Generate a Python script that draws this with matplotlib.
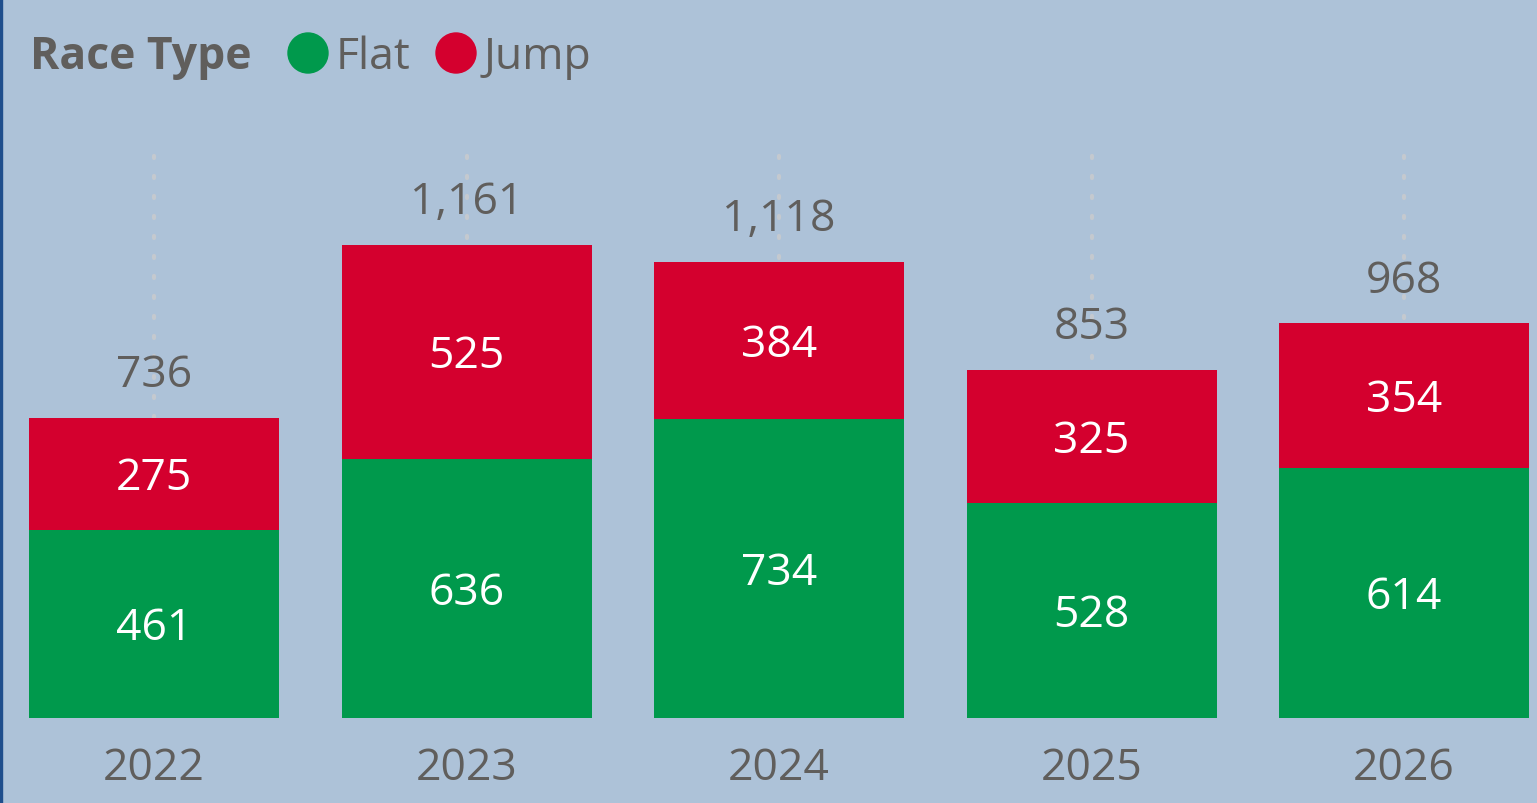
import numpy as np
import matplotlib
matplotlib.use("Agg")
import matplotlib.pyplot as plt
from matplotlib.patches import Ellipse, Rectangle

years = ['2022', '2023', '2024', '2025', '2026']
flat = [461, 636, 734, 528, 614]
jump = [275, 525, 384, 325, 354]
series_names = ['Flat', 'Jump']
series_colors = ['#00994C', '#D4002E']

bg = '#ADC2D8'
txt = '#605E5C'

plt.rcParams['font.family'] = ['Open Sans', 'DejaVu Sans']

W, H = 1537, 804
fig = plt.figure(figsize=(W / 100, H / 100), dpi=100)
fig.patch.set_facecolor(bg)

# plot area in pixels: baseline at y=719, top at y=100
ax = fig.add_axes([0, (H - 719) / H, 1, (719 - 100) / H])
ax.set_facecolor(bg)
for s in ax.spines.values():
    s.set_visible(False)

x = np.arange(len(years))
totals = np.array(flat) + np.array(jump)

ax.set_xlim(-0.4928, 4.4256)
ax.set_ylim(0, 1518.6)

# dotted gridlines at each category
for xi in x:
    ax.axvline(xi, ymin=0, ymax=(719 - 140) / (719 - 100), color='#C4C9CF',
               ls=(0, (0.5, 4.3)), lw=3, dash_capstyle='round', zorder=0)

fs = 32
ax.bar(x, flat, width=0.8, color=series_colors[0], zorder=2)
ax.bar(x, jump, width=0.8, bottom=flat, color=series_colors[1], zorder=2)

for i in range(len(years)):
    ax.annotate(str(flat[i]), (x[i], flat[i] / 2), xytext=(0, -3),
                textcoords='offset points', ha='center', va='center',
                color='white', fontsize=fs, zorder=3)
    ax.annotate(str(jump[i]), (x[i], flat[i] + jump[i] / 2), xytext=(0, -3),
                textcoords='offset points', ha='center', va='center',
                color='white', fontsize=fs, zorder=3)
    ax.annotate('{:,}'.format(totals[i]), (x[i], totals[i]), xytext=(0, 15),
                textcoords='offset points', ha='center', va='bottom',
                color=txt, fontsize=fs)

ax.set_yticks([])
ax.set_xticks(x)
ax.set_xticklabels(years, fontsize=fs, color=txt)
ax.tick_params(axis='x', length=0, pad=20)

# legend drawn by hand
fig.text(30 / W, 1 - 58 / H, 'Race Type', fontsize=32, fontweight='bold',
         color=txt, va='center', ha='left')
lx = [308, 456]
for name, col, px in zip(series_names, series_colors, lx):
    fig.patches.append(Ellipse((px / W, 1 - 54 / H), 40 / W, 40 / H,
                               transform=fig.transFigure, color=col))
    fig.text((px + 28) / W, 1 - 58 / H, name, fontsize=fs, color=txt,
             va='center', ha='left')

# thin dark edge on the left
fig.patches.append(Rectangle((0, 0), 2 / W, 1, transform=fig.transFigure,
                             color='#1F4E8C', zorder=5))

fig.savefig('out.png', dpi=100, facecolor=bg)
